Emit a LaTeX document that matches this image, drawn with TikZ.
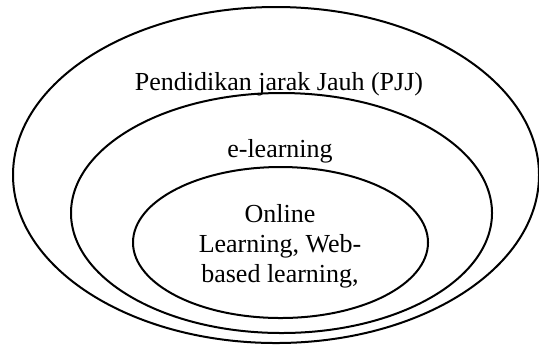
\documentclass[tikz,border=0pt]{standalone}
\usepackage{fontspec}
\setmainfont{Liberation Serif}
\usepackage{tikz}
\usetikzlibrary{positioning}

\tikzset{
  ring/.style={line width=1pt},
  label/.style={font=\fontsize{13}{15}\selectfont, inner sep=0pt},
}

\begin{document}
\begin{tikzpicture}[x=0.5pt, y=-0.5pt]
    \useasboundingbox (0,0) rectangle (539,345);
    % Centres of the rings
    \coordinate (pjj) at (276,175);
    \coordinate (el) at (281.5,213);
    \coordinate (ol) at (280.5,242.5);
    % Rings
    \draw[ring] (pjj) ellipse [x radius=263, y radius=168];
    \draw[ring] (el) ellipse [x radius=210.5, y radius=120];
    \draw[ring] (ol) ellipse [x radius=147.5, y radius=75.5];
    % Labels
    \node[label, anchor=base] (pjjtext) at (279,90) {Pendidikan jarak Jauh (PJJ)};
    \node[label, anchor=base] (eltext) at (280,157) {e-learning};
    \node[label, align=center] (oltext) at (280,246) {Online\\Learning, Web-\\based learning,};
\end{tikzpicture}
\end{document}
